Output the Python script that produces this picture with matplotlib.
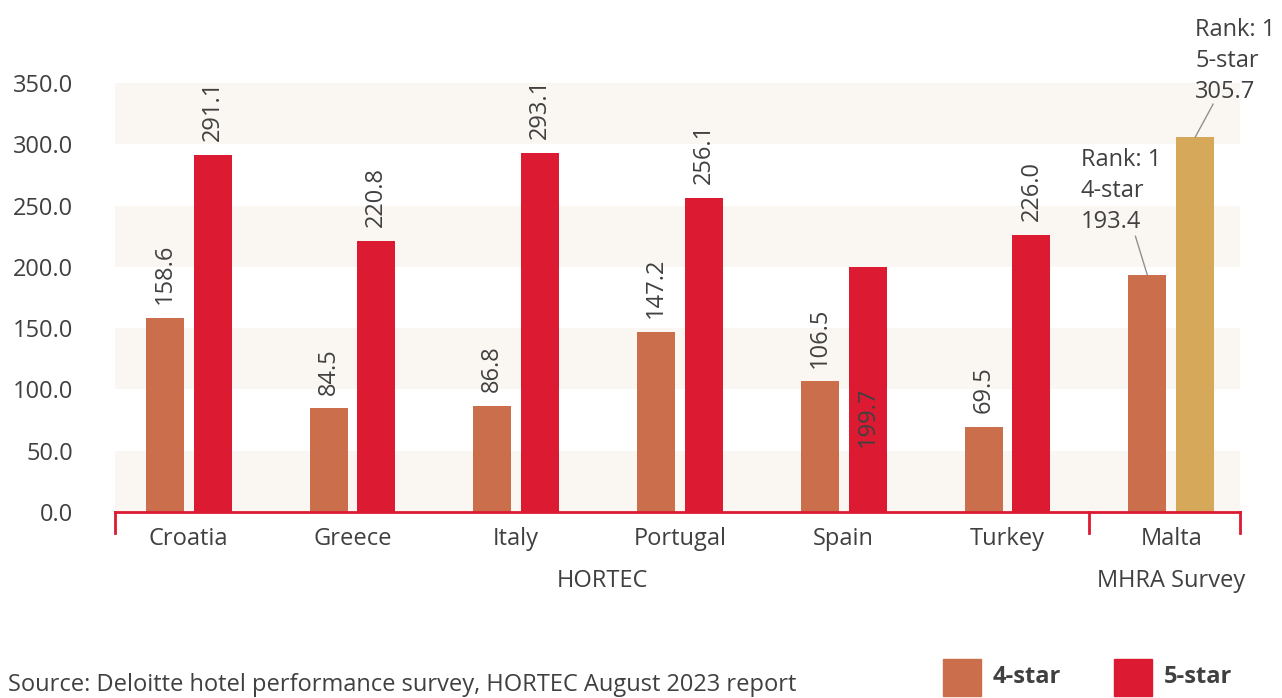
import matplotlib
matplotlib.use("Agg")
import matplotlib.pyplot as plt
import matplotlib.transforms as mtransforms
from matplotlib.patches import Rectangle
import numpy as np

# ---- data ----
categories = ["Croatia", "Greece", "Italy", "Portugal", "Spain", "Turkey", "Malta"]
four_star = [158.6, 84.5, 86.8, 147.2, 106.5, 69.5, 193.4]
five_star = [291.1, 220.8, 293.1, 256.1, 199.7, 226.0, 305.7]
group_labels = ["HORTEC", "MHRA Survey"]
yticks = [0, 50, 100, 150, 200, 250, 300, 350]
source = "Source: Deloitte hotel performance survey, HORTEC August 2023 report"

C4 = "#CB6E4B"
C5 = "#DC1A32"
CMALTA = "#D6A85A"
BAND = "#FAF7F2"
TXT = "#404040"
LEAD = "#909090"

plt.rcParams['font.family'] = ['Open Sans', 'DejaVu Sans']
FS = 17

fig = plt.figure(figsize=(12.82, 6.98), dpi=100)
ax = fig.add_axes([115/1282, 1-512/698, (1240-115)/1282, (512-83)/698])

x = np.arange(len(categories))
w = 0.232
off = 0.146
XL, XR = -0.45, 6.42
ax.set_xlim(XL, XR)
ax.set_ylim(0, 350)

# bands
for i in range(0, len(yticks) - 1, 2):
    ax.axhspan(yticks[i], yticks[i+1], color=BAND, zorder=0, lw=0)

c5 = [C5] * (len(categories) - 1) + [CMALTA]
ax.bar(x - off, four_star, w, color=C4, zorder=2)
ax.bar(x + off, five_star, w, color=c5, zorder=2)

# value labels
for i in range(len(categories) - 1):
    ax.annotate(f"{four_star[i]:.1f}", (x[i] - off, four_star[i]), xytext=(0, 10),
                textcoords="offset points", rotation=90, ha="center", va="bottom",
                fontsize=FS, color=TXT)
    if categories[i] == "Spain":
        ax.annotate(f"{five_star[i]:.1f}", (x[i] + off, five_star[i] * 0.39),
                    rotation=90, ha="center", va="center", fontsize=FS, color=TXT)
    else:
        ax.annotate(f"{five_star[i]:.1f}", (x[i] + off, five_star[i]), xytext=(0, 10),
                    textcoords="offset points", rotation=90, ha="center", va="bottom",
                    fontsize=FS, color=TXT)

# Malta annotations (text + leader line)
m = len(categories) - 1
ax.annotate("", xy=(x[m] - off, four_star[m]), xytext=(-8.6, 28), textcoords="offset points",
            annotation_clip=False,
            arrowprops=dict(arrowstyle="-", color=LEAD, lw=1, shrinkA=0, shrinkB=0))
ax.annotate(f"Rank: 1\n4-star\n{four_star[m]:.1f}", xy=(x[m] - off, four_star[m]),
            xytext=(-48, 29.5), textcoords="offset points", ha="left", va="bottom",
            fontsize=FS, color=TXT, linespacing=1.4, annotation_clip=False)
ax.annotate("", xy=(x[m] + off, five_star[m]), xytext=(13, 24), textcoords="offset points",
            annotation_clip=False,
            arrowprops=dict(arrowstyle="-", color=LEAD, lw=1, shrinkA=0, shrinkB=0))
ax.annotate(f"Rank: 1\n5-star\n{five_star[m]:.1f}", xy=(x[m] + off, five_star[m]),
            xytext=(0, 24), textcoords="offset points", ha="left", va="bottom",
            fontsize=FS, color=TXT, linespacing=1.4, annotation_clip=False)

# axes styling
for s in ax.spines.values():
    s.set_visible(False)
ax.set_yticks(yticks)
ax.set_yticklabels([f"{v:.1f}" for v in yticks], fontsize=FS, color=TXT)
ax.tick_params(axis="y", length=0, pad=30)
ax.set_xticks(x)
ax.set_xticklabels(categories, fontsize=FS, color=TXT)
ax.tick_params(axis="x", length=0, pad=11)

# red bracket axis
trans = mtransforms.blended_transform_factory(ax.transData, ax.transAxes)
ax.plot([XL, XR], [0, 0], transform=trans, color=C5, lw=2, clip_on=False, zorder=3)
sep = 5.5
for xv in [XL, sep, XR]:
    ax.plot([xv, xv], [0, -0.05], transform=trans, color=C5, lw=2, clip_on=False, zorder=3)

ax.text((XL + sep) / 2, -0.16, group_labels[0], transform=trans, ha="center", va="center",
        fontsize=FS, color=TXT)
ax.text((sep + XR) / 2 + 0.04, -0.16, group_labels[1], transform=trans, ha="center",
        va="center", fontsize=FS, color=TXT)

# source
fig.text(8/1282, 1-685/698, source, ha="left", va="center", fontsize=FS, color=TXT)

# legend
for px, col, lab in [(943, C4, "4-star"), (1114, C5, "5-star")]:
    fig.patches.append(Rectangle((px/1282, 1-696/698), 38/1282, 37/698,
                                 transform=fig.transFigure, color=col))
    fig.text((px + 50)/1282, 1-677/698, lab, ha="left", va="center", fontsize=FS,
             fontweight="bold", color=TXT)

fig.savefig("out.png", dpi=100)
